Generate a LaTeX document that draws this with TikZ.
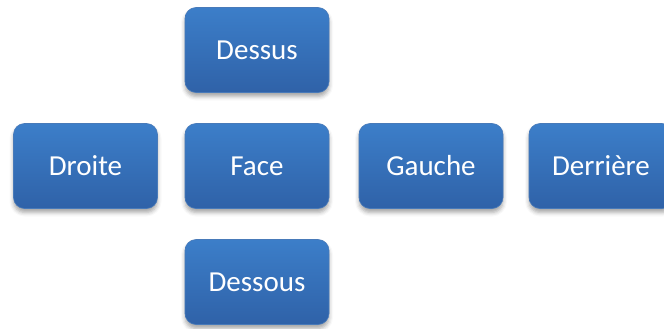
\documentclass[tikz,border=0pt]{standalone}
\usepackage{fontspec}
\setmainfont{Carlito}
\usetikzlibrary{shadows.blur}
\definecolor{boxtop}{RGB}{60,126,201}
\definecolor{boxbot}{RGB}{47,98,168}
\definecolor{boxedge}{RGB}{72,122,185}

\begin{document}
\begin{tikzpicture}[x=1pt, y=-1pt,
    facebox/.style={rectangle, rounded corners=11pt, minimum width=144pt, minimum height=85pt,
      inner sep=0pt, top color=boxtop, bottom color=boxbot, draw=boxedge, line width=0.6pt,
      text=white, font=\fontsize{29}{32}\selectfont,
      blur shadow={shadow xshift=0pt, shadow yshift=-4pt, shadow blur radius=4pt, shadow opacity=35}}]
      \useasboundingbox (0,0) rectangle (664,329);
      \clip (0,0) rectangle (664,329);
      % middle row
      \node[facebox] (face) at (257,166) {Face};
      \node[facebox] (droite) at (85.5,166) {Droite};
      \node[facebox] (gauche) at (431,166) {Gauche};
      \node[facebox] (derriere) at (601,166) {Derrière};
      % top and bottom
      \node[facebox] (dessus) at (257,50) {Dessus};
      \node[facebox] (dessous) at (257,282) {Dessous};
    \end{tikzpicture}
\end{document}
